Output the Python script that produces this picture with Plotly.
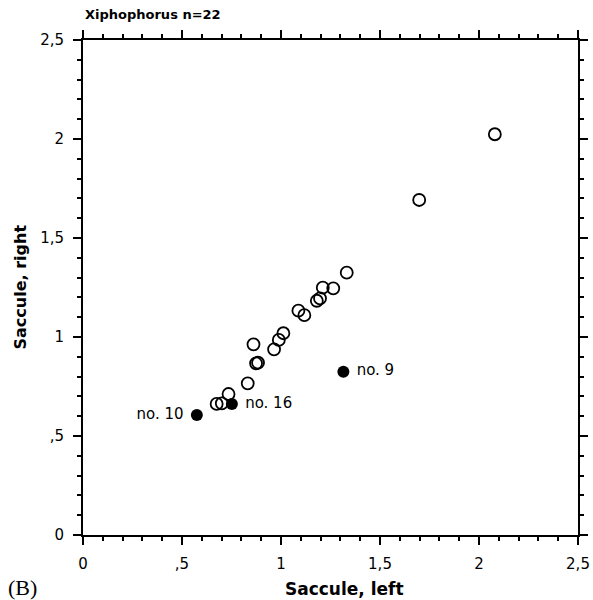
import plotly.graph_objects as go

# Open circles: Saccule left / right
open_x = [2.080, 1.698, 1.332, 1.211, 1.264, 1.197, 1.181, 1.088, 1.118, 1.012,
          0.989, 0.965, 0.861, 0.874, 0.884, 0.832, 0.735, 0.701, 0.675]
open_y = [2.024, 1.692, 1.325, 1.249, 1.246, 1.195, 1.183, 1.133, 1.110, 1.019,
          0.985, 0.938, 0.963, 0.867, 0.870, 0.766, 0.712, 0.665, 0.662]

# Filled (labelled) specimens
fill_x = [0.575, 0.752, 1.315]
fill_y = [0.606, 0.662, 0.825]
fill_labels = ["no. 10", "no. 16", "no. 9"]
label_pos = ["middle left", "middle right", "middle right"]

tick_vals = [0, 0.5, 1, 1.5, 2, 2.5]
tick_text = ["0", ",5", "1", "1,5", "2", "2,5"]

fig = go.Figure()
fig.add_trace(go.Scatter(
    x=open_x, y=open_y, mode="markers",
    marker=dict(symbol="circle-open", size=12, color="black", line=dict(width=1.8)),
    hoverinfo="skip", showlegend=False))
fig.add_trace(go.Scatter(
    x=fill_x, y=fill_y, mode="markers+text",
    text=[" " + t + " " for t in fill_labels], textposition=label_pos,
    textfont=dict(family="DejaVu Sans, Arial", size=15, color="black"),
    marker=dict(symbol="circle", size=12, color="black"),
    hoverinfo="skip", showlegend=False))

axis_common = dict(
    range=[0, 2.5], tickvals=tick_vals, ticktext=tick_text,
    showline=True, linewidth=2, linecolor="black", mirror="ticks",
    ticks="outside", ticklen=8, tickwidth=2, tickcolor="black",
    minor=dict(dtick=0.1, ticks="outside", ticklen=4, tickwidth=1.5, tickcolor="black"),
    showgrid=False, zeroline=False, automargin=False,
    tickfont=dict(family="DejaVu Sans, Arial", size=15, color="black"),
)

fig.update_layout(
    width=593, height=600,
    margin=dict(l=83, r=15, t=40, b=65, autoexpand=False),
    paper_bgcolor="white", plot_bgcolor="white",
    xaxis=dict(**axis_common, ticklabelstandoff=6),
    yaxis=dict(**axis_common, ticklabelstandoff=6),
    annotations=[
        dict(text="<b>Xiphophorus n=22</b>", x=0, y=1, xref="paper", yref="paper",
             xanchor="left", yanchor="bottom", yshift=16, showarrow=False,
             font=dict(family="DejaVu Sans, Arial", size=13, color="black")),
        dict(text="<b>Saccule, left</b>", x=0.529, y=0, xref="paper", yref="paper",
             xanchor="center", yanchor="middle", yshift=-54, showarrow=False,
             font=dict(family="DejaVu Sans, Arial", size=17, color="black")),
        dict(text="<b>Saccule, right</b>", x=0, y=0.5, xref="paper", yref="paper",
             xanchor="center", yanchor="middle", xshift=-63, textangle=-90, showarrow=False,
             font=dict(family="DejaVu Sans, Arial", size=16, color="black")),
        dict(text="(B)", x=0, y=0, xref="paper", yref="paper",
             xanchor="left", yanchor="middle", xshift=-77, yshift=-52, showarrow=False,
             font=dict(family="Liberation Serif, Times New Roman", size=22, color="black")),
    ],
)

fig.write_html("out.html",
               config={"displayModeBar": False},
               post_script="document.body.style.margin='0';document.body.style.overflow='hidden';")
